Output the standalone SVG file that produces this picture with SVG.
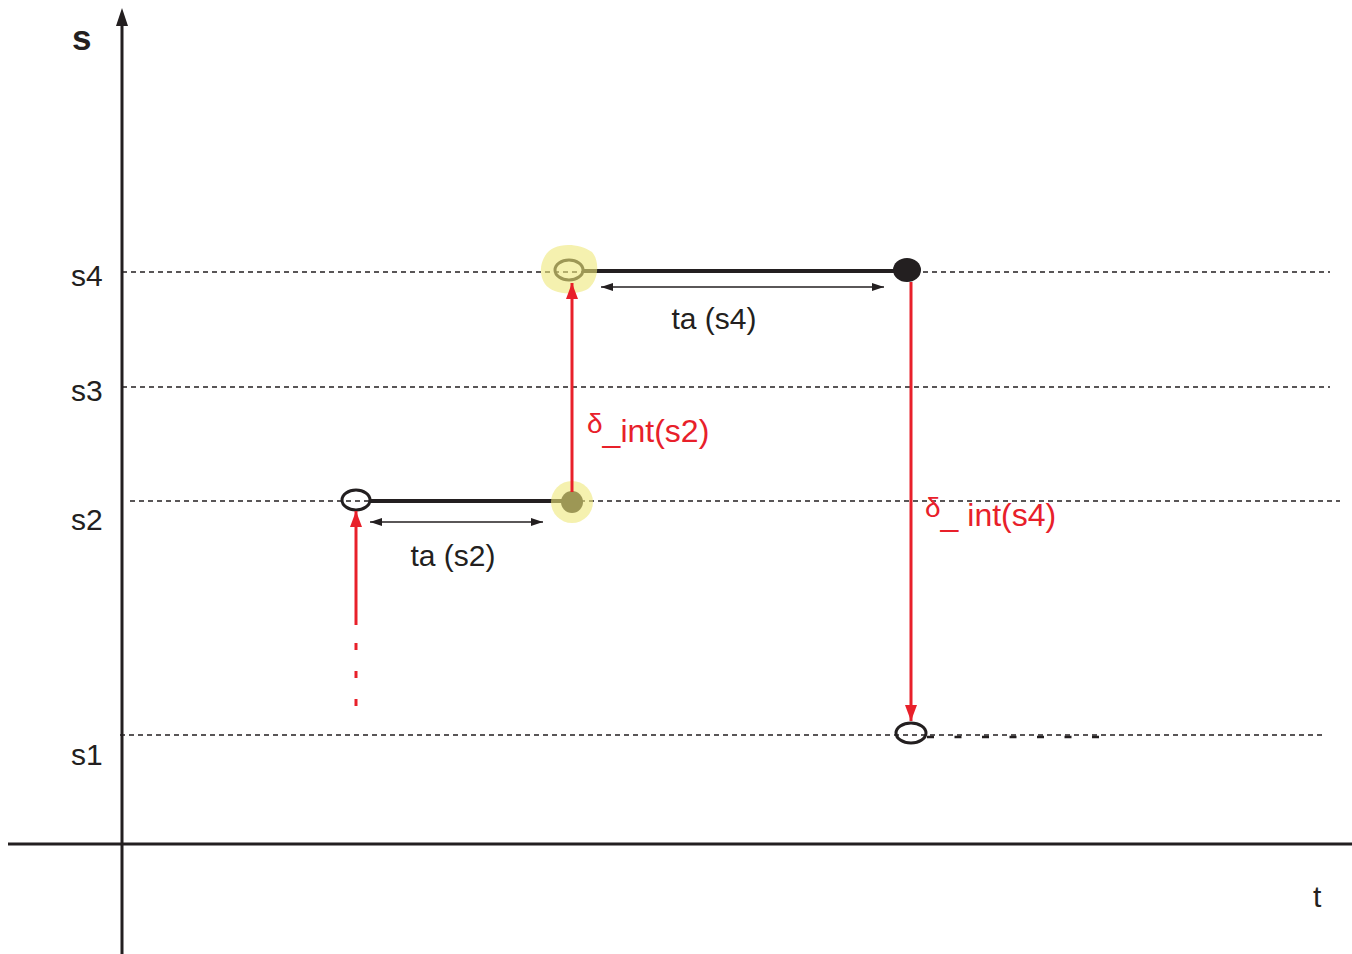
<svg xmlns="http://www.w3.org/2000/svg" width="1352" height="954" viewBox="0 0 1352 954">
  <style>
    .lbl { font-family: "Liberation Sans", Arial, sans-serif; font-size: 30px; fill: #231f20; }
    .red { font-family: "Liberation Sans", Arial, sans-serif; font-size: 32px; fill: #e8202a; }
    .grid { stroke: #231f20; stroke-width: 1.3; stroke-dasharray: 5 4; fill: none; }
    .axis { stroke: #231f20; stroke-width: 3; fill: none; }
    .seg { stroke: #231f20; stroke-width: 4; fill: none; }
    .dim { stroke: #231f20; stroke-width: 1.6; fill: none; marker-start: url(#dimL); marker-end: url(#dimR); }
    .jump { stroke: #e8202a; stroke-width: 3; fill: none; }
    .hl { fill: #eee87a; opacity: 0.6; }
  </style>
  <defs>
    <marker id="dimR" viewBox="0 0 12 8" refX="12" refY="4" markerWidth="12" markerHeight="8" markerUnits="userSpaceOnUse" orient="auto">
      <path d="M0,0 L12,4 L0,8 Z" fill="#231f20"/>
    </marker>
    <marker id="dimL" viewBox="0 0 12 8" refX="0" refY="4" markerWidth="12" markerHeight="8" markerUnits="userSpaceOnUse" orient="auto">
      <path d="M12,0 L0,4 L12,8 Z" fill="#231f20"/>
    </marker>
    <marker id="redHead" viewBox="0 0 16 12" refX="16" refY="6" markerWidth="16" markerHeight="12" markerUnits="userSpaceOnUse" orient="auto">
      <path d="M0,0 L16,6 L0,12 Z" fill="#e8202a"/>
    </marker>
  </defs>

  <!-- axes -->
  <g id="axes">
    <line class="axis" x1="122" y1="22" x2="122" y2="954"/>
    <path d="M116,26 L122,8 L128,26 Z" fill="#231f20"/>
    <line class="axis" x1="8" y1="844" x2="1352" y2="844"/>
    <text x="72" y="50" font-family="Liberation Sans, Arial, sans-serif" font-size="35" font-weight="bold" fill="#231f20">s</text>
    <text class="lbl" x="1313" y="907">t</text>
  </g>

  <!-- state levels -->
  <g id="levels">
    <line class="grid" x1="122" y1="272" x2="1330" y2="272"/>
    <line class="grid" x1="122" y1="387" x2="1330" y2="387"/>
    <line class="grid" x1="130" y1="501" x2="1340" y2="501"/>
    <line class="grid" x1="120" y1="735" x2="1322" y2="735"/>
    <text class="lbl" x="71" y="286">s4</text>
    <text class="lbl" x="71" y="401">s3</text>
    <text class="lbl" x="71" y="530">s2</text>
    <text class="lbl" x="71" y="765">s1</text>
  </g>

  <!-- s2 interval -->
  <g id="s2-interval">
    <line class="seg" x1="370" y1="501" x2="572" y2="501"/>
    <ellipse cx="356" cy="500" rx="14" ry="10" fill="none" stroke="#231f20" stroke-width="3"/>
    <circle cx="572" cy="502" r="11" fill="#231f20"/>
    <circle class="hl" cx="572" cy="502" r="21"/>
    <line class="dim" x1="370" y1="522" x2="543" y2="522"/>
    <text class="lbl" x="453" y="566" text-anchor="middle">ta (s2)</text>
  </g>

  <!-- s4 interval -->
  <g id="s4-interval">
    <line class="seg" x1="583" y1="271" x2="906" y2="271"/>
    <ellipse cx="569" cy="270" rx="14" ry="10" fill="none" stroke="#231f20" stroke-width="3"/>
    <path class="hl" d="M545,256 C552,242 578,242 592,252 C601,262 598,284 586,290 C572,296 552,294 545,284 C539,275 540,264 545,256 Z"/>
    <ellipse cx="907" cy="270" rx="14" ry="12" fill="#231f20"/>
    <line class="dim" x1="601" y1="287" x2="884" y2="287"/>
    <text class="lbl" x="714" y="329" text-anchor="middle">ta (s4)</text>
  </g>

  <!-- s1 state -->
  <g id="s1-state">
    <ellipse cx="911" cy="733" rx="15" ry="10" fill="none" stroke="#231f20" stroke-width="3"/>
    <line x1="927" y1="737" x2="1104" y2="737" stroke="#231f20" stroke-width="2.5" stroke-dasharray="7 20.5"/>
  </g>

  <!-- internal transitions -->
  <g id="connectors">
    <line class="jump" x1="356" y1="625" x2="356" y2="511" marker-end="url(#redHead)"/>
    <line x1="356" y1="643" x2="356" y2="707" stroke="#e8202a" stroke-width="3" stroke-dasharray="7 21"/>
    <line class="jump" x1="572" y1="492" x2="572" y2="283" marker-end="url(#redHead)"/>
    <line class="jump" x1="911" y1="282" x2="911" y2="721" marker-end="url(#redHead)"/>
    <text class="red" x="587" y="442"><tspan font-size="28" dy="-9">δ</tspan><tspan dy="9">_int(s2)</tspan></text>
    <text class="red" x="925" y="526"><tspan font-size="28" dy="-9">δ</tspan><tspan dy="9">_ int(s4)</tspan></text>
  </g>
</svg>
